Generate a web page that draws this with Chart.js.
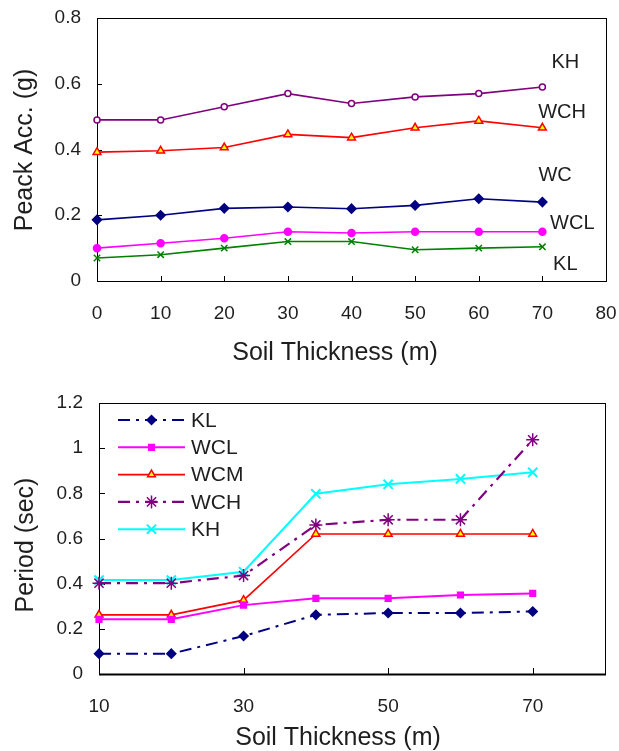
<!DOCTYPE html>
<html>
<head>
<meta charset="utf-8">
<script src="https://cdn.jsdelivr.net/npm/chart.js@4.4.1/dist/chart.umd.min.js"></script>
<style>
  body { margin: 0; background: #fff; }
  canvas { position: absolute; left: 0; }
</style>
</head>
<body>
<canvas id="accChart" width="619" height="370" style="top:0"></canvas>
<canvas id="periodChart" width="619" height="381" style="top:370px"></canvas>
<script>
// --- peak acceleration (top chart) ---
const thickA = [0, 10, 20, 30, 40, 50, 60, 70];
const accKH  = [0.49, 0.49, 0.53, 0.57, 0.54, 0.56, 0.57, 0.59];
const accWCH = [0.392, 0.396, 0.406, 0.446, 0.436, 0.466, 0.487, 0.466];
const accWC  = [0.186, 0.2, 0.221, 0.225, 0.22, 0.23, 0.25, 0.24];
const accWCL = [0.1, 0.115, 0.13, 0.15, 0.146, 0.15, 0.15, 0.15];
const accKL  = [0.07, 0.08, 0.1, 0.12, 0.12, 0.095, 0.1, 0.104];
const accTicksX = [0, 10, 20, 30, 40, 50, 60, 70, 80];
const accTicksY = [0, 0.2, 0.4, 0.6, 0.8];

// --- period (bottom chart) ---
const thickB = [10, 20, 30, 40, 50, 60, 70];
const perKL  = [0.09, 0.09, 0.168, 0.262, 0.27, 0.27, 0.277];
const perWCL = [0.242, 0.242, 0.305, 0.335, 0.335, 0.35, 0.357];
const perWCM = [0.262, 0.262, 0.327, 0.62, 0.62, 0.62, 0.62];
const perWCH = [0.402, 0.402, 0.436, 0.66, 0.683, 0.683, 1.037];
const perKH  = [0.416, 0.416, 0.453, 0.798, 0.84, 0.864, 0.893];
const perTicksX = [10, 30, 50, 70];
const perTicksY = [0, 0.2, 0.4, 0.6, 0.8, 1, 1.2];

const FONT = "'Liberation Sans', Arial, sans-serif";
const TXT = '#1e1e1e';
Chart.defaults.font.family = FONT;
Chart.defaults.color = TXT;

function pts(xs, ys) {
    return ys.map((v, i) => ({ x: xs[i], y: v }));
}

// frame around the plot + tick marks pointing inward
const framePlugin = {
    id: 'frame',
    beforeDatasetsDraw(chart, args, opts) {
        const { ctx, chartArea: a, scales } = chart;
        ctx.save();
        ctx.strokeStyle = '#000';
        ctx.lineWidth = 1;
        ctx.strokeRect(a.left + 0.5, a.top + 0.5, a.right - a.left, a.bottom - a.top);
        if (opts.bottomWidth) {
            ctx.lineWidth = opts.bottomWidth;
            ctx.beginPath();
            ctx.moveTo(a.left, a.bottom + 0.5);
            ctx.lineTo(a.right + 1, a.bottom + 0.5);
            ctx.stroke();
        }
        ctx.lineWidth = 1;
        ctx.beginPath();
        scales.x.ticks.forEach(t => {
            const px = Math.round(scales.x.getPixelForValue(t.value)) + 0.5;
            ctx.moveTo(px, a.bottom);
            ctx.lineTo(px, a.bottom - opts.len);
        });
        scales.y.ticks.forEach(t => {
            const py = Math.round(scales.y.getPixelForValue(t.value)) + 0.5;
            ctx.moveTo(a.left, py);
            ctx.lineTo(a.left + opts.len, py);
        });
        ctx.stroke();
        ctx.restore();
    },
    afterDraw(chart, args, opts) {
        // axis titles
        const { ctx } = chart;
        ctx.save();
        ctx.fillStyle = TXT;
        ctx.font = opts.titleSize + 'px ' + FONT;
        ctx.textAlign = 'center';
        ctx.textBaseline = 'middle';
        ctx.fillText(opts.xTitle[0], opts.xTitle[1], opts.xTitle[2]);
        ctx.translate(opts.yTitle[1], opts.yTitle[2]);
        ctx.rotate(-Math.PI / 2);
        ctx.fillText(opts.yTitle[0], 0, 0);
        ctx.restore();
    }
};

// series names written next to the lines (top chart)
const namePlugin = {
    id: 'names',
    afterDraw(chart, args, opts) {
        if (!opts.items) return;
        const { ctx, scales } = chart;
        ctx.save();
        ctx.fillStyle = TXT;
        ctx.font = opts.size + 'px ' + FONT;
        ctx.textAlign = 'center';
        ctx.textBaseline = 'middle';
        opts.items.forEach(it => {
            ctx.fillText(it[0], scales.x.getPixelForValue(it[1]), scales.y.getPixelForValue(it[2]));
        });
        ctx.restore();
    }
};

// legend with line sample + marker, inside the plot (bottom chart)
const legendPlugin = {
    id: 'lineLegend',
    afterDraw(chart, args, opts) {
        if (!opts.show) return;
        const { ctx } = chart;
        ctx.save();
        chart.data.datasets.forEach((ds, i) => {
            const y = opts.top + i * opts.step;
            ctx.strokeStyle = ds.borderColor;
            ctx.lineWidth = ds.borderWidth;
            ctx.setLineDash(ds.borderDash || []);
            ctx.beginPath();
            ctx.moveTo(opts.left, y);
            ctx.lineTo(opts.left + opts.width, y);
            ctx.stroke();
            ctx.setLineDash([]);
            ctx.fillStyle = ds.pointBackgroundColor;
            ctx.strokeStyle = ds.pointBorderColor;
            ctx.lineWidth = ds.pointBorderWidth;
            Chart.helpers.drawPoint(ctx, {
                pointStyle: ds.pointStyle, radius: ds.pointRadius,
                rotation: 0, borderWidth: ds.pointBorderWidth
            }, opts.left + opts.width / 2, y);
            ctx.fillStyle = TXT;
            ctx.font = opts.size + 'px ' + FONT;
            ctx.textBaseline = 'middle';
            ctx.fillText(ds.label, opts.left + opts.width + 6, y + 1);
        });
        ctx.restore();
    }
};

function series(label, xs, ys, color, style, extra) {
    return Object.assign({
        label: label,
        data: pts(xs, ys),
        borderColor: color,
        borderWidth: 1.6,
        pointStyle: style,
        pointRadius: 3.5,
        pointBackgroundColor: color,
        pointBorderColor: color,
        pointBorderWidth: 1.5,
        fill: false,
        tension: 0,
        clip: false
    }, extra || {});
}

function buildOptions(c) {
    return {
        responsive: false,
        animation: false,
        layout: { padding: c.padding },
        plugins: {
            legend: { display: false },
            tooltip: { enabled: false },
            frame: c.frame,
            names: c.names || {},
            lineLegend: c.legend || {}
        },
        scales: {
            x: {
                type: 'linear', min: c.xMin, max: c.xMax,
                grid: { display: false }, border: { display: false },
                afterBuildTicks: s => { s.ticks = c.xTicks.map(v => ({ value: v })); },
                afterFit: s => { s.height = c.xHeight; s.paddingLeft = 0; s.paddingRight = 0; },
                ticks: { font: { size: 19 }, padding: c.xPad, maxRotation: 0, color: TXT,
                         callback: v => String(v) }
            },
            y: {
                type: 'linear', min: c.yMin, max: c.yMax,
                grid: { display: false }, border: { display: false },
                afterBuildTicks: s => { s.ticks = c.yTicks.map(v => ({ value: v })); },
                afterFit: s => { s.width = c.yWidth; s.paddingTop = 0; s.paddingBottom = 0; },
                ticks: { font: { size: 19 }, padding: 8, color: TXT,
                         callback: v => String(v) }
            }
        }
    };
}

new Chart(document.getElementById('accChart'), {
    type: 'line',
    data: {
        datasets: [
            series('KH', thickA, accKH, '#800080', 'circle', { pointBackgroundColor: '#ffffff', pointRadius: 3 }),
            series('WCH', thickA, accWCH, '#ff0000', 'triangle', { pointBackgroundColor: '#ffff00', pointRadius: 4.5 }),
            series('WC', thickA, accWC, '#000080', 'rectRot', { pointRadius: 4.5 }),
            series('WCL', thickA, accWCL, '#ff00ff', 'circle', { pointRadius: 3.5 }),
            series('KL', thickA, accKL, '#008000', 'crossRot', { pointRadius: 4.5 })
        ]
    },
    options: buildOptions({
        padding: { left: 0, right: 13, top: 18, bottom: 0 },
        xMin: 0, xMax: 80, yMin: 0, yMax: 0.8,
        xTicks: accTicksX, yTicks: accTicksY,
        xHeight: 89, yWidth: 97, xPad: 13,
        frame: { len: 5, titleSize: 25, xTitle: ['Soil Thickness (m)', 335, 353], yTitle: ['Peack Acc. (g)', 25, 150] },
        names: { size: 20, items: [['KH', 73.6, 0.666], ['WCH', 73.1, 0.514], ['WC', 72, 0.322], ['WCL', 74.7, 0.176], ['KL', 73.6, 0.049]] }
    }),
    plugins: [framePlugin, namePlugin]
});

new Chart(document.getElementById('periodChart'), {
    type: 'line',
    data: {
        datasets: [
            series('KL', thickB, perKL, '#000080', 'rectRot', { borderDash: [12, 6, 3, 6], borderWidth: 2, pointRadius: 4.5 }),
            series('WCL', thickB, perWCL, '#ff00ff', 'rect', { borderWidth: 2, pointRadius: 4 }),
            series('WCM', thickB, perWCM, '#ff0000', 'triangle', { pointBackgroundColor: '#ffff00', borderWidth: 1.6, pointRadius: 4.5 }),
            series('WCH', thickB, perWCH, '#800080', 'star', { borderDash: [12, 6, 3, 6], borderWidth: 2.2, pointRadius: 6.5 }),
            series('KH', thickB, perKH, '#00ffff', 'crossRot', { borderWidth: 2, pointRadius: 6.5, pointBorderWidth: 2 })
        ]
    },
    options: buildOptions({
        padding: { left: 0, right: 14, top: 33, bottom: 0 },
        xMin: 10, xMax: 80, yMin: 0, yMax: 1.2,
        xTicks: perTicksX, yTicks: perTicksY,
        xHeight: 77, yWidth: 99, xPad: 13,
        frame: { len: 6, bottomWidth: 2, titleSize: 25, xTitle: ['Soil Thickness (m)', 338, 368], yTitle: ['Period (sec)', 26, 175] },
        legend: { show: true, left: 118, width: 67, top: 50, step: 27.3, size: 21 }
    }),
    plugins: [framePlugin, namePlugin, legendPlugin]
});
</script>
</body>
</html>
